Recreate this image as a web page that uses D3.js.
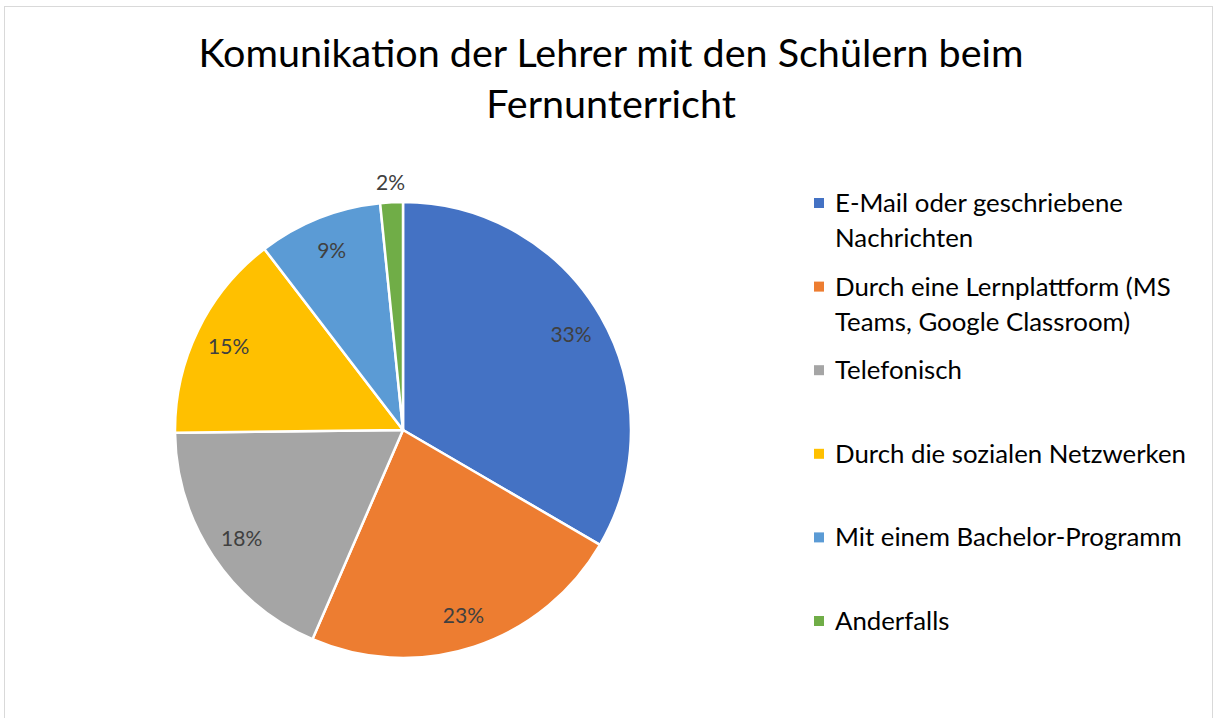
<!DOCTYPE html>
<html>
<head>
<meta charset="utf-8">
<script src="https://cdn.jsdelivr.net/npm/d3@7"></script>
<style>
  html, body { margin: 0; padding: 0; background: #fff; }
  svg { display: block; }
  text { font-family: Lato, "Open Sans", sans-serif; }
</style>
</head>
<body>
<svg id="chart" width="1218" height="718"></svg>
<script>
const titleLines = ["Komunikation der Lehrer mit den Schülern beim", "Fernunterricht"];
const categories = [
  "E-Mail oder geschriebene Nachrichten",
  "Durch eine Lernplattform (MS Teams, Google Classroom)",
  "Telefonisch",
  "Durch die sozialen Netzwerken",
  "Mit einem Bachelor-Programm",
  "Anderfalls"
];
const legendLines = [
  ["E-Mail oder geschriebene", "Nachrichten"],
  ["Durch eine Lernplattform (MS", "Teams, Google Classroom)"],
  ["Telefonisch"],
  ["Durch die sozialen Netzwerken"],
  ["Mit einem Bachelor-Programm"],
  ["Anderfalls"]
];
const values = [33.4, 23.1, 18.3, 14.8, 8.8, 1.6];
const colors = ["#4472C4", "#ED7D31", "#A5A5A5", "#FFC000", "#5B9BD5", "#70AD47"];

const W = 1218, H = 718;
const svg = d3.select("#chart");

// frame
svg.append("rect").attr("x", 4.5).attr("y", 6.5).attr("width", 1208).attr("height", 720)
  .attr("fill", "#fff").attr("stroke", "#D9D9D9").attr("stroke-width", 1);

// title
const title = svg.append("text").attr("text-anchor", "middle").attr("fill", "#000")
  .attr("font-size", 39.5);
titleLines.forEach((t, i) => {
  title.append("tspan").attr("x", 611).attr("y", 67 + i * 51).text(t);
});

// pie
const cx = 403, cy = 430, R = 228;
const total = d3.sum(values);
const pie = d3.pie().sort(null).value(d => d)(values);
const arc = d3.arc().innerRadius(0).outerRadius(R);
const g = svg.append("g").attr("transform", `translate(${cx},${cy})`);
g.selectAll("path").data(pie).join("path")
  .attr("d", arc)
  .attr("fill", (d, i) => colors[i])
  .attr("stroke", "#fff").attr("stroke-width", 2.5).attr("stroke-linejoin", "round");

const labelArcIn = d3.arc().innerRadius(R * 0.85).outerRadius(R * 0.85);
const labelArcOut = d3.arc().innerRadius(R * 1.09).outerRadius(R * 1.09);
g.selectAll("text.lbl").data(pie).join("text")
  .attr("class", "lbl")
  .attr("transform", d => {
    const small = (d.endAngle - d.startAngle) < 0.2;
    const p = (small ? labelArcOut : labelArcIn).centroid(d);
    return `translate(${p[0]},${p[1]})`;
  })
  .attr("text-anchor", "middle").attr("dominant-baseline", "central")
  .attr("font-size", 21).attr("fill", "#404040")
  .text(d => Math.round(d.data / total * 100) + "%");

// legend
const legY0 = 203, legStep = 83.6;
const leg = svg.append("g");
legendLines.forEach((lines, i) => {
  const y = legY0 + i * legStep;
  leg.append("rect").attr("x", 814).attr("y", y - 5).attr("width", 10).attr("height", 10)
    .attr("fill", colors[i]);
  const t = leg.append("text").attr("font-size", 25.8).attr("fill", "#000");
  lines.forEach((ln, j) => {
    t.append("tspan").attr("x", 835).attr("y", y + j * 35).attr("dy", "0.35em").text(ln);
  });
});
</script>
</body>
</html>
